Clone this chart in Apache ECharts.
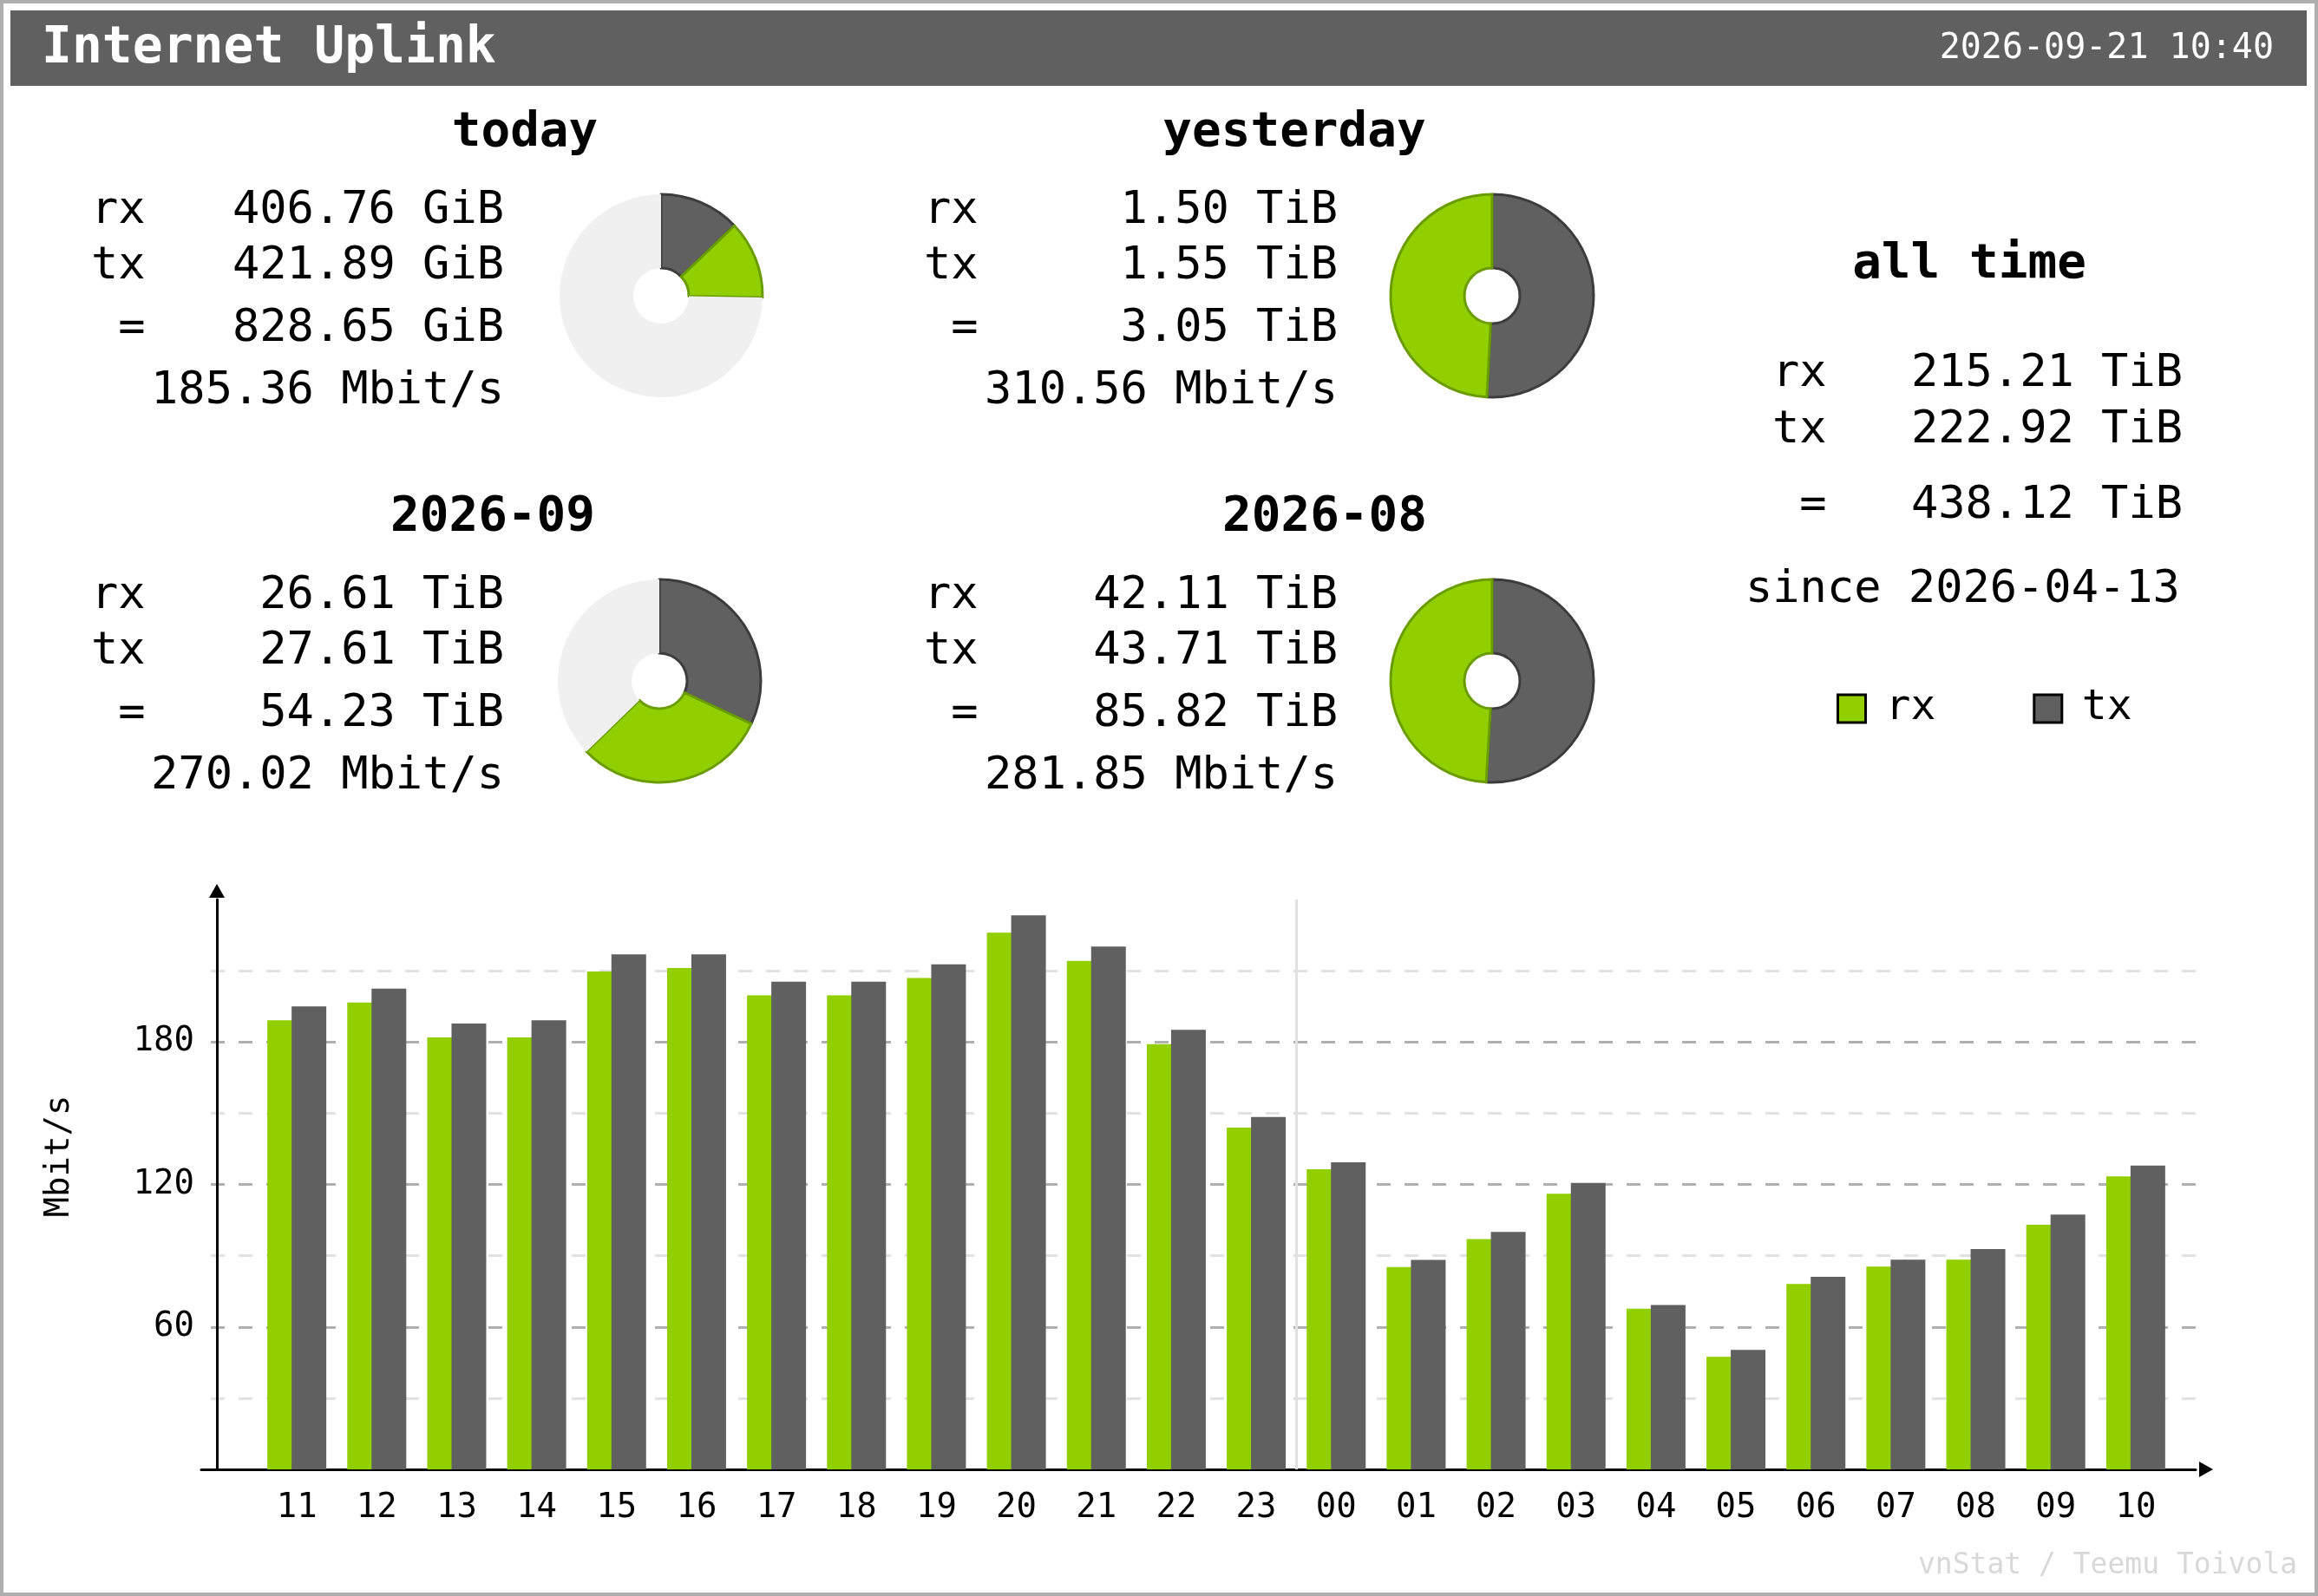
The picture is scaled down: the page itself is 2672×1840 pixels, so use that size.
<!DOCTYPE html>
<html>
<head>
<meta charset="utf-8">
<title>vnstat - Internet Uplink</title>
<style>
html, body { margin: 0; padding: 0; background: #fff; }
#main { width: 2672px; height: 1840px; }
</style>
</head>
<body>
<div id="main"></div>
<script src="https://cdn.jsdelivr.net/npm/echarts@6/dist/echarts.min.js"></script>
<script>
// hourly averages, Mbit/s
var hours = ['11', '12', '13', '14', '15', '16', '17', '18', '19', '20', '21', '22',
             '23', '00', '01', '02', '03', '04', '05', '06', '07', '08', '09', '10'];
var rxRate = [189.1, 196.6, 181.9, 181.9, 209.7, 211.1, 199.6, 199.6, 206.9, 226.0, 214.2, 179.1,
              143.9, 126.4, 85.2, 97.0, 116.1, 67.7, 47.4, 78.1, 85.4, 88.3, 103.0, 123.4];
var txRate = [195.0, 202.5, 187.8, 189.1, 216.9, 216.9, 205.4, 205.4, 212.7, 233.3, 220.2, 185.1,
              148.4, 129.3, 88.2, 100.0, 120.6, 69.2, 50.3, 81.1, 88.3, 92.8, 107.3, 127.9];

// summary blocks
var blockNames = ['today', 'yesterday', '2026-09', '2026-08'];
var blockRx = [406.76, 1.50, 26.61, 42.11];
var blockTx = [421.89, 1.55, 27.61, 43.71];
var blockTotal = [828.65, 3.05, 54.23, 85.82];
var blockUnit = ['GiB', 'TiB', 'TiB', 'TiB'];
var blockRate = [185.36, 310.56, 270.02, 281.85];
var blockRest = [2450, 0, 32.2, 0];   // unfilled part of the pie

var allRx = 215.21, allTx = 222.92, allTotal = 438.12, allUnit = 'TiB';
var sinceDate = '2026-04-13';
var ifaceName = 'Internet Uplink';
var stamp = '2026-09-21 10:40';

var RX = '#92cf00', TX = '#606060', REST = '#f0f0f0';
var MONO = '"DejaVu Sans Mono", "Liberation Mono", monospace';

var myChart = echarts.init(document.getElementById('main'));

function txt(x, y, s, size, align, opts) {
    opts = opts || {};
    return {
        type: 'text',
        x: x, y: y,
        rotation: opts.rotation || 0,
        silent: true,
        z: 10,
        style: {
            text: s,
            font: (opts.bold ? 'bold ' : '') + size + 'px ' + MONO,
            fill: opts.fill || '#000',
            align: align, textAlign: align,
            verticalAlign: 'middle', textVerticalAlign: 'middle'
        }
    };
}

var graphics = [
    { type: 'rect', shape: { x: 2, y: 2, width: 2668, height: 1836 }, style: { fill: 'none', stroke: '#aeaeae', lineWidth: 4 }, silent: true },
    { type: 'rect', shape: { x: 12, y: 12, width: 2647, height: 87 }, style: { fill: '#606060' }, silent: true, z: 1 },
    txt(48, 57, ifaceName, 58, 'left', { bold: true, fill: '#fff' }),
    txt(2621, 57, stamp, 40, 'right', { fill: '#fff' }),
    txt(2648, 1805, 'vnStat / Teemu Toivola', 33, 'right', { fill: '#d8d8d8' }),
    txt(69, 1333, 'Mbit/s', 39, 'center', { rotation: Math.PI / 2 })
];

// text blocks
var titlePos = [[605, 153], [1492, 153], [568, 596], [1527, 596]];
var labelX = [105, 1065, 105, 1065];
var valueR = [581, 1542, 581, 1542];
var rowTop = [0, 0, 444, 444];
var rowY = [243, 307, 379, 451];
var pieCenter = [[762, 341], [1720, 341], [760, 785], [1720, 785]];

var series = [];
blockNames.forEach(function (name, b) {
    var dy = rowTop[b];
    graphics.push(txt(titlePos[b][0], titlePos[b][1], name, 56, 'center', { bold: true }));
    graphics.push(txt(labelX[b], rowY[0] + dy, 'rx', 52, 'left'));
    graphics.push(txt(labelX[b], rowY[1] + dy, 'tx', 52, 'left'));
    graphics.push(txt(labelX[b], rowY[2] + dy, ' =', 52, 'left'));
    graphics.push(txt(valueR[b], rowY[0] + dy, blockRx[b].toFixed(2) + ' ' + blockUnit[b], 52, 'right'));
    graphics.push(txt(valueR[b], rowY[1] + dy, blockTx[b].toFixed(2) + ' ' + blockUnit[b], 52, 'right'));
    graphics.push(txt(valueR[b], rowY[2] + dy, blockTotal[b].toFixed(2) + ' ' + blockUnit[b], 52, 'right'));
    graphics.push(txt(valueR[b], rowY[3] + dy, blockRate[b].toFixed(2) + ' Mbit/s', 52, 'right'));

    series.push({
        type: 'pie',
        center: pieCenter[b],
        radius: [32, 117],
        startAngle: 90,
        clockwise: true,
        silent: true,
        label: { show: false },
        labelLine: { show: false },
        emphasis: { disabled: true },
        data: [
            { name: 'tx', value: blockTx[b], itemStyle: { color: TX, borderColor: '#3c3c3c', borderWidth: 3 } },
            { name: 'rx', value: blockRx[b], itemStyle: { color: RX, borderColor: '#6a9c00', borderWidth: 3 } },
            { name: 'rest', value: blockRest[b], itemStyle: { color: REST, borderWidth: 0 } }
        ]
    });
});

// all time
graphics.push(txt(2270, 305, 'all time', 56, 'center', { bold: true }));
graphics.push(txt(2043, 431, 'rx', 52, 'left'));
graphics.push(txt(2043, 496, 'tx', 52, 'left'));
graphics.push(txt(2043, 583, ' =', 52, 'left'));
graphics.push(txt(2516, 431, allRx.toFixed(2) + ' ' + allUnit, 52, 'right'));
graphics.push(txt(2516, 496, allTx.toFixed(2) + ' ' + allUnit, 52, 'right'));
graphics.push(txt(2516, 583, allTotal.toFixed(2) + ' ' + allUnit, 52, 'right'));
graphics.push(txt(2012, 680, 'since ' + sinceDate, 52, 'left'));

var dayBreak = hours.indexOf('00') + 0.5;

series.push({
    name: 'rx',
    type: 'bar',
    barWidth: 40,
    barGap: '-30%',
    itemStyle: { color: RX },
    data: rxRate.map(function (v, i) { return [i + 1, v]; })
});
series.push({
    name: 'tx',
    type: 'bar',
    barWidth: 40,
    barGap: '-30%',
    itemStyle: { color: TX },
    data: txRate.map(function (v, i) { return [i + 1, v]; })
});
// day boundary between 23 and 00
series.push({
    name: 'midnight',
    type: 'line',
    data: [],
    silent: true,
    markLine: {
        silent: true,
        symbol: 'none',
        label: { show: false },
        lineStyle: { color: '#e0e0e0', width: 3, type: 'solid' },
        data: [{ xAxis: dayBreak }]
    }
});

var gridLine = { type: [16, 16], dashOffset: 21, width: 3 };

var options = {
    animation: false,
    backgroundColor: '#fff',
    textStyle: { fontFamily: MONO },
    grid: { left: 232, right: 141, top: 1037, bottom: 146, containLabel: false },
    legend: {
        data: ['rx', 'tx'],
        left: 2112,
        top: 788,
        itemWidth: 32,
        itemHeight: 32,
        itemGap: 112,
        icon: 'rect',
        selectedMode: false,
        itemStyle: { borderColor: '#000', borderWidth: 3 },
        textStyle: { fontFamily: MONO, fontSize: 48, color: '#000', padding: [0, 0, 0, 18] }
    },
    xAxis: {
        type: 'value',
        min: -0.195,
        max: 24.75,
        axisLine: {
            onZero: true,
            symbol: ['none', 'triangle'],
            symbolSize: [18, 16],
            symbolOffset: [0, 12],
            lineStyle: { color: '#000', width: 3 }
        },
        axisTick: { show: false },
        splitLine: { show: false },
        axisLabel: {
            customValues: hours.map(function (h, i) { return i + 1; }),
            formatter: function (v) { return hours[v - 1]; },
            fontFamily: MONO,
            fontSize: 39,
            color: '#000',
            margin: 25
        }
    },
    yAxis: [{
        type: 'value',
        min: 0,
        max: 240,
        interval: 30,
        axisLine: {
            show: true,
            onZero: true,
            symbol: ['none', 'triangle'],
            symbolSize: [18, 16],
            symbolOffset: [0, 10],
            lineStyle: { color: '#000', width: 3 }
        },
        axisTick: { show: false },
        axisLabel: { show: false },
        splitLine: {
            show: true,
            showMinLine: false,
            showMaxLine: false,
            lineStyle: Object.assign({ color: '#e2e2e2' }, gridLine)
        }
    }, {
        type: 'value',
        position: 'left',
        min: 0,
        max: 240,
        interval: 60,
        axisLine: { show: false, onZero: true },
        axisTick: { show: false },
        axisLabel: {
            showMinLabel: false,
            showMaxLabel: false,
            fontFamily: MONO,
            fontSize: 39,
            color: '#000',
            margin: 8,
            padding: [8, 0, 0, 0]
        },
        splitLine: {
            show: true,
            showMinLine: false,
            showMaxLine: false,
            lineStyle: Object.assign({ color: '#b0b0b0' }, gridLine)
        }
    }],
    graphic: graphics,
    series: series
};
myChart.setOption(options);
</script>
</body>
</html>
